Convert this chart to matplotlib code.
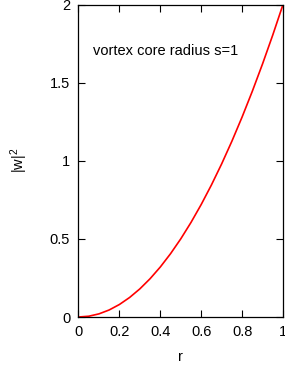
import matplotlib
matplotlib.use("Agg")
import matplotlib.pyplot as plt

# |w|^2
r_values = [0.0, 0.05, 0.1, 0.15, 0.2, 0.25, 0.3, 0.35, 0.4, 0.45, 0.5,
            0.55, 0.6, 0.65, 0.7, 0.75, 0.8, 0.85, 0.9, 0.95, 1.0]
w2_values = [0.0, 0.005, 0.02, 0.045, 0.08, 0.125, 0.18, 0.245, 0.32, 0.405, 0.5,
             0.605, 0.72, 0.845, 0.98, 1.125, 1.28, 1.445, 1.62, 1.805, 2.0]
x_ticks = [0, 0.2, 0.4, 0.6, 0.8, 1]
x_tick_labels = ["0", "0.2", "0.4", "0.6", "0.8", "1"]
y_ticks = [0, 0.5, 1, 1.5, 2]
y_tick_labels = ["0", "0.5", "1", "1.5", "2"]

plt.rcParams["font.family"] = ["Liberation Sans", "DejaVu Sans"]
plt.rcParams["mathtext.fontset"] = "custom"
plt.rcParams["mathtext.rm"] = "Liberation Sans"
plt.rcParams["mathtext.default"] = "regular"

fig = plt.figure(figsize=(2.85, 3.69), dpi=100)
ax = fig.add_axes([0.2754, 0.1409, 0.7176, 0.8469])

ax.plot(r_values, w2_values, color="#ff0000", lw=1.2)
ax.set_xlim(0, 1)
ax.set_ylim(0, 2)
ax.set_xticks(x_ticks)
ax.set_xticklabels(x_tick_labels)
ax.set_yticks(y_ticks)
ax.set_yticklabels(y_tick_labels)
ax.tick_params(direction="in", length=4.7, width=0.8, labelsize=10.5, pad=6,
               top=True, right=True)
for s in ax.spines.values():
    s.set_linewidth(0.9)

ax.set_xlabel("r", fontsize=10.5, labelpad=8)
ax.set_ylabel("|w|$^2$", fontsize=10.5, labelpad=14)
ax.text(0.071, 1.70, "vortex core radius s=1", fontsize=10.5, va="center", ha="left")

fig.savefig("out.png", dpi=100)
